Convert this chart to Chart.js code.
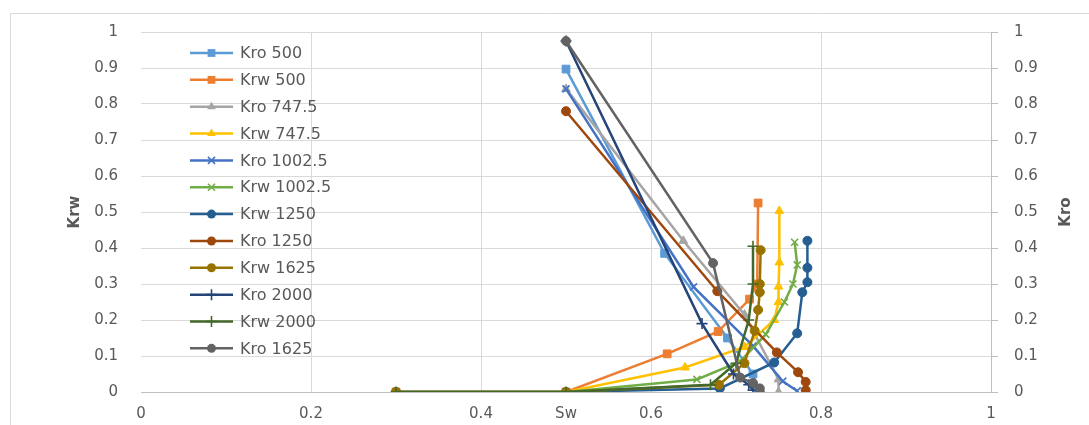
<!DOCTYPE html>
<html>
<head>
<meta charset="utf-8">
<title>Kr vs Sw</title>
<script src="https://cdn.jsdelivr.net/npm/chart.js@4.4.1/dist/chart.umd.min.js"></script>
<style>
  html, body { margin: 0; padding: 0; background: #ffffff; }
  #wrap { width: 1089px; height: 425px; }
</style>
</head>
<body>
<div id="wrap"><canvas id="c" width="1089" height="425"></canvas></div>
<script>
// ---- data: water saturation (Sw) and relative permeability per series ----
const kro500Sw    = [0.5, 0.616, 0.69, 0.72, 0.725];
const kro500      = [0.897, 0.385, 0.15, 0.05, 0.01];

const krw500Sw    = [0.3, 0.5, 0.619, 0.679, 0.716, 0.725, 0.726];
const krw500      = [0, 0, 0.106, 0.168, 0.258, 0.3, 0.525];

const kro747Sw    = [0.5, 0.638, 0.71, 0.75, 0.75];
const kro747      = [0.842, 0.42, 0.215, 0.035, 0];

const krw747Sw    = [0.3, 0.5, 0.64, 0.71, 0.745, 0.75, 0.75, 0.751, 0.751];
const krw747      = [0, 0, 0.068, 0.125, 0.2, 0.25, 0.293, 0.36, 0.503];

const kro1002Sw   = [0.5, 0.65, 0.72, 0.755, 0.772];
const kro1002     = [0.842, 0.292, 0.128, 0.03, 0.003];

const krw1002Sw   = [0.3, 0.5, 0.654, 0.705, 0.735, 0.757, 0.767, 0.772, 0.769];
const krw1002     = [0, 0, 0.035, 0.085, 0.16, 0.25, 0.3, 0.353, 0.416];

const krw1250Sw   = [0.3, 0.5, 0.681, 0.745, 0.772, 0.778, 0.784, 0.784, 0.784];
const krw1250     = [0, 0, 0.01, 0.082, 0.163, 0.277, 0.305, 0.345, 0.42];

const kro1250Sw   = [0.5, 0.678, 0.748, 0.773, 0.782, 0.782];
const kro1250     = [0.78, 0.28, 0.11, 0.055, 0.028, 0.005];

const krw1625Sw   = [0.3, 0.5, 0.68, 0.71, 0.722, 0.726, 0.728, 0.728, 0.729];
const krw1625     = [0, 0, 0.02, 0.08, 0.17, 0.228, 0.277, 0.3, 0.394];

const kro2000Sw   = [0.5, 0.66, 0.697, 0.715, 0.72];
const kro2000     = [0.975, 0.19, 0.05, 0.02, 0.005];

const krw2000Sw   = [0.3, 0.5, 0.67, 0.70, 0.715, 0.72, 0.72];
const krw2000     = [0, 0, 0.02, 0.08, 0.2, 0.3, 0.405];

const kro1625Sw   = [0.5, 0.673, 0.705, 0.72, 0.728, 0.728];
const kro1625     = [0.975, 0.358, 0.04, 0.025, 0.01, 0];

const seriesNames = ['Kro 500', 'Krw 500', 'Kro 747.5', 'Krw 747.5', 'Kro 1002.5', 'Krw 1002.5',
                     'Krw 1250', 'Kro 1250', 'Krw 1625', 'Kro 2000', 'Krw 2000', 'Kro 1625'];
const seriesSw    = [kro500Sw, krw500Sw, kro747Sw, krw747Sw, kro1002Sw, krw1002Sw,
                     krw1250Sw, kro1250Sw, krw1625Sw, kro2000Sw, krw2000Sw, kro1625Sw];
const seriesK     = [kro500, krw500, kro747, krw747, kro1002, krw1002,
                     krw1250, kro1250, krw1625, kro2000, krw2000, kro1625];

const xTicks = [0, 0.2, 0.4, 0.6, 0.8, 1];
const yTicks = [0, 0.1, 0.2, 0.3, 0.4, 0.5, 0.6, 0.7, 0.8, 0.9, 1];

// ---- styling ----
const colors  = ['#5B9BD5', '#ED7D31', '#A5A5A5', '#FFC000', '#4472C4', '#70AD47',
                 '#255E91', '#9E480E', '#997300', '#264478', '#43682B', '#636363'];
const markers = ['rect', 'rect', 'triangle', 'triangle', 'crossRot', 'crossRot',
                 'circle', 'circle', 'circle', 'cross', 'cross', 'circle'];
const radii   = { rect: 5.5, triangle: 5, circle: 4.5, crossRot: 5, cross: 5.5 };

const TEXT = '#595959';
const GRID = '#d9d9d9';
const AXIS = '#bfbfbf';
const FONT = 'DejaVu Sans';

// plain number labels: 0, 0.2, ..., 1
const fmt = (v) => String(Math.round(v * 10) / 10);

const datasets = seriesNames.map((name, i) => ({
  label: name,
  data: seriesSw[i].map((x, j) => ({ x: x, y: seriesK[i][j] })),
  yAxisID: name.startsWith('Kro') ? 'y1' : 'y',
  showLine: true,
  borderColor: colors[i],
  backgroundColor: colors[i],
  borderWidth: 2.5,
  pointStyle: markers[i],
  pointRadius: radii[markers[i]],
  pointBackgroundColor: colors[i],
  pointBorderColor: colors[i],
  pointBorderWidth: (markers[i] === 'crossRot' || markers[i] === 'cross') ? 1.6 : 1,
  order: seriesNames.length - i,
  tension: 0
}));

function drawMarker(ctx, style, r, x, y, color) {
  ctx.save();
  ctx.fillStyle = color;
  ctx.strokeStyle = color;
  ctx.lineWidth = (style === 'crossRot' || style === 'cross') ? 1.6 : 1;
  ctx.beginPath();
  if (style === 'rect') {
    const s = r * Math.SQRT2;
    ctx.rect(x - s / 2, y - s / 2, s, s);
    ctx.fill();
  } else if (style === 'triangle') {
    ctx.moveTo(x, y - r);
    ctx.lineTo(x + r * 0.866, y + r * 0.5);
    ctx.lineTo(x - r * 0.866, y + r * 0.5);
    ctx.closePath();
    ctx.fill();
  } else if (style === 'circle') {
    ctx.arc(x, y, r, 0, Math.PI * 2);
    ctx.fill();
  } else if (style === 'crossRot') {
    const d = r * Math.SQRT1_2;
    ctx.moveTo(x - d, y - d); ctx.lineTo(x + d, y + d);
    ctx.moveTo(x - d, y + d); ctx.lineTo(x + d, y - d);
    ctx.stroke();
  } else if (style === 'cross') {
    ctx.moveTo(x, y - r); ctx.lineTo(x, y + r);
    ctx.moveTo(x - r, y); ctx.lineTo(x + r, y);
    ctx.stroke();
  }
  ctx.restore();
}

// outer frame, inline legend and the secondary axis title
const decorations = {
  id: 'decorations',
  beforeDraw(chart) {
    const ctx = chart.ctx;
    ctx.save();
    ctx.strokeStyle = GRID;
    ctx.lineWidth = 1;
    ctx.beginPath();
    ctx.moveTo(10.5, chart.height);
    ctx.lineTo(10.5, 13.5);
    ctx.lineTo(chart.width, 13.5);
    ctx.stroke();
    ctx.restore();
  },
  afterDraw(chart) {
    const ctx = chart.ctx;
    const area = chart.chartArea;
    ctx.save();
    // legend
    const x0 = 190, x1 = 233, top = 53, step = 26.85;
    ctx.font = '16px "' + FONT + '"';
    ctx.textBaseline = 'middle';
    ctx.textAlign = 'left';
    chart.data.datasets.forEach((ds, i) => {
      const y = top + i * step;
      ctx.strokeStyle = ds.borderColor;
      ctx.lineWidth = 2.5;
      ctx.beginPath();
      ctx.moveTo(x0, y);
      ctx.lineTo(x1, y);
      ctx.stroke();
      drawMarker(ctx, ds.pointStyle, ds.pointRadius, (x0 + x1) / 2, y, ds.borderColor);
      ctx.fillStyle = TEXT;
      ctx.fillText(ds.label, 240, y + 1);
    });
    // right axis title, reading bottom to top
    ctx.translate(1066, (area.top + area.bottom) / 2);
    ctx.rotate(-Math.PI / 2);
    ctx.font = 'bold 15px "' + FONT + '"';
    ctx.textAlign = 'center';
    ctx.fillStyle = TEXT;
    ctx.fillText('Kro', 0, 0);
    ctx.restore();
  }
};

new Chart(document.getElementById('c'), {
  type: 'scatter',
  data: { datasets: datasets },
  plugins: [decorations],
  options: {
    responsive: false,
    animation: false,
    devicePixelRatio: 1,
    layout: { padding: { top: 24, left: 0, right: 0, bottom: 0 } },
    plugins: { legend: { display: false }, tooltip: { enabled: false } },
    scales: {
      x: {
        type: 'linear',
        min: xTicks[0],
        max: xTicks[xTicks.length - 1],
        afterBuildTicks: (scale) => { scale.ticks = xTicks.map(v => ({ value: v })); },
        ticks: { padding: 13, color: TEXT, font: { family: FONT, size: 15 }, callback: fmt },
        grid: {
          drawTicks: false,
          color: (c) => (c.tick && c.tick.value === 0) ? 'rgba(0,0,0,0)' : GRID
        },
        border: { display: false },
        title: { display: true, text: 'Sw', color: TEXT, padding: { top: 0, bottom: 2 }, font: { family: FONT, size: 15 } },
        afterFit: (scale) => { scale.height = 33; }
      },
      y: {
        position: 'left',
        min: 0,
        max: 1,
        afterBuildTicks: (scale) => { scale.ticks = yTicks.map(v => ({ value: v })); },
        ticks: { padding: 23, color: TEXT, font: { family: FONT, size: 15 }, callback: fmt },
        grid: {
          drawTicks: false,
          color: (c) => (c.tick && c.tick.value === 0) ? AXIS : GRID
        },
        border: { display: false },
        title: { display: true, text: 'Krw', color: TEXT, padding: { top: 66 }, font: { family: FONT, size: 15, weight: 'bold' } },
        afterFit: (scale) => { scale.width = 141; }
      },
      y1: {
        position: 'right',
        min: 0,
        max: 1,
        afterBuildTicks: (scale) => { scale.ticks = yTicks.map(v => ({ value: v })); },
        ticks: { padding: 16, color: TEXT, font: { family: FONT, size: 15 }, callback: fmt },
        grid: { drawOnChartArea: false, drawTicks: true, tickLength: 7, color: AXIS },
        border: { display: true, color: AXIS },
        afterFit: (scale) => { scale.width = 98; }
      }
    }
  }
});
</script>
</body>
</html>
